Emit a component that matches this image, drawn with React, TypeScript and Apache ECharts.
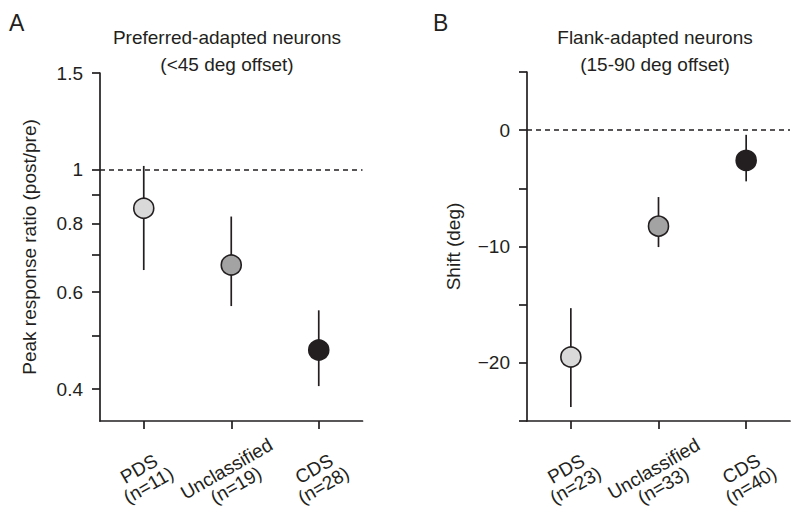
import React, { useEffect, useRef } from "react";
import * as echarts from "echarts";

// Panel A: Preferred-adapted neurons (peak response ratio, log scale)
const categoriesA = ["PDS\n(n=11)", "Unclassified\n(n=19)", "CDS\n(n=28)"];
const meanA = [0.852, 0.672, 0.471];
const lowA = [0.658, 0.566, 0.405];
const highA = [1.017, 0.823, 0.556];
const tickLabelsA = [0.4, 0.6, 0.8, 1, 1.5];
const tickMarksA = [0.4, 0.5, 0.6, 0.7, 0.8, 0.9, 1, 1.5];
const refA = 1;

// Panel B: Flank-adapted neurons (shift in deg)
const categoriesB = ["PDS\n(n=23)", "Unclassified\n(n=33)", "CDS\n(n=40)"];
const meanB = [-19.5, -8.25, -2.6];
const lowB = [-23.8, -10.05, -4.4];
const highB = [-15.3, -5.75, -0.4];
const tickLabelsB = [-20, -10, 0];
const tickMarksB = [-25, -20, -15, -10, -5, 0, 5];
const refB = 0;

const fills = ["#d9d9d9", "#a3a3a3", "#231f20"];
const INK = "#231f20";
const FONT = "Liberation Sans, Arial, sans-serif";

const errRender = (params: any, api: any) => {
  const x = api.value(0);
  const p1 = api.coord([x, api.value(1)]);
  const p2 = api.coord([x, api.value(2)]);
  return {
    type: "line",
    shape: { x1: p1[0], y1: p1[1], x2: p2[0], y2: p2[1] },
    style: { stroke: INK, lineWidth: 1.7 },
  };
};

export default function App() {
  const ref = useRef<HTMLDivElement>(null);
  useEffect(() => {
    if (!ref.current) return;
    const chart = echarts.init(ref.current, null, { renderer: "svg" });
    const ln = Math.log;
    const axisLine = { show: true, onZero: false, lineStyle: { color: INK, width: 1.7 } };
    const axisTick = { show: true, length: 8, lineStyle: { color: INK, width: 1.7 } };
    const xLabel = {
      rotate: 30,
      align: "center",
      verticalAlign: "middle",
      margin: 56,
      fontSize: 19,
      lineHeight: 19,
      color: INK,
      fontFamily: FONT,
    };
    const yLabelStyle = { fontSize: 19, color: INK, fontFamily: FONT, margin: 17 };
    const markLine = (v: number) => ({
      silent: true,
      symbol: "none",
      label: { show: false },
      lineStyle: { color: INK, type: [5, 4], width: 1.5 },
      data: [{ yAxis: v }],
    });
    const nameStyle = { fontSize: 19, color: INK, fontFamily: FONT };
    const titleStyle = {
      fontSize: 19,
      lineHeight: 27,
      align: "center",
      fill: INK,
      fontFamily: FONT,
    };
    chart.setOption({
      animation: false,
      backgroundColor: "#ffffff",
      textStyle: { fontFamily: FONT },
      grid: [
        { left: 100, top: 73, width: 262.5, height: 348, containLabel: false, outerBoundsMode: "none" },
        { left: 527, top: 72, width: 263, height: 349, containLabel: false, outerBoundsMode: "none" },
      ],
      xAxis: [
        {
          gridIndex: 0,
          type: "category",
          data: categoriesA,
          boundaryGap: true,
          axisLine,
          axisTick: { ...axisTick, alignWithLabel: true },
          axisLabel: xLabel,
        },
        {
          gridIndex: 1,
          type: "category",
          data: categoriesB,
          boundaryGap: true,
          axisLine,
          axisTick: { ...axisTick, alignWithLabel: true },
          axisLabel: xLabel,
        },
      ],
      yAxis: [
        {
          gridIndex: 0,
          type: "value",
          min: ln(0.35),
          max: ln(1.5),
          name: "Peak response ratio (post/pre)",
          nameLocation: "middle",
          nameGap: 61,
          nameTextStyle: nameStyle,
          axisLine,
          axisTick: { ...axisTick, customValues: tickMarksA.map((v) => ln(v)) },
          axisLabel: {
            ...yLabelStyle,
            customValues: tickLabelsA.map((v) => ln(v)),
            formatter: (v: number) => String(parseFloat(Math.exp(v).toFixed(2))),
          },
          splitLine: { show: false },
        },
        {
          gridIndex: 1,
          type: "value",
          min: -25,
          max: 5,
          name: "Shift (deg)",
          nameLocation: "middle",
          nameGap: 64,
          nameTextStyle: nameStyle,
          axisLine,
          axisTick: { ...axisTick, customValues: tickMarksB },
          axisLabel: {
            ...yLabelStyle,
            customValues: tickLabelsB,
            formatter: (v: number) => (v < 0 ? "\u2212" + Math.abs(v) : String(v)),
          },
          splitLine: { show: false },
        },
      ],
      graphic: [
        { type: "text", x: 9, y: 11, style: { text: "A", fontSize: 23, fill: INK, fontFamily: FONT } },
        { type: "text", x: 433, y: 11, style: { text: "B", fontSize: 23, fill: INK, fontFamily: FONT } },
        {
          type: "text",
          x: 227,
          y: 23.5,
          style: { ...titleStyle, text: "Preferred-adapted neurons\n(<45 deg offset)" },
        },
        {
          type: "text",
          x: 655,
          y: 23.5,
          style: { ...titleStyle, text: "Flank-adapted neurons\n(15-90 deg offset)" },
        },
      ],
      series: [
        {
          type: "custom",
          xAxisIndex: 0,
          yAxisIndex: 0,
          renderItem: errRender,
          encode: { x: 0, y: [1, 2] },
          data: lowA.map((l, i) => [i, ln(l), ln(highA[i])]),
          z: 2,
        },
        {
          type: "scatter",
          xAxisIndex: 0,
          yAxisIndex: 0,
          symbolSize: 20,
          data: meanA.map((v, i) => ({
            value: [i, ln(v)],
            itemStyle: { color: fills[i], borderColor: INK, borderWidth: 1.6, opacity: 1 },
          })),
          markLine: markLine(ln(refA)),
          z: 3,
        },
        {
          type: "custom",
          xAxisIndex: 1,
          yAxisIndex: 1,
          renderItem: errRender,
          encode: { x: 0, y: [1, 2] },
          data: lowB.map((l, i) => [i, l, highB[i]]),
          z: 2,
        },
        {
          type: "scatter",
          xAxisIndex: 1,
          yAxisIndex: 1,
          symbolSize: 20,
          data: meanB.map((v, i) => ({
            value: [i, v],
            itemStyle: { color: fills[i], borderColor: INK, borderWidth: 1.6, opacity: 1 },
          })),
          markLine: markLine(refB),
          z: 3,
        },
      ],
    });
    return () => chart.dispose();
  }, []);
  return (
    <div
      ref={ref}
      style={{ position: "fixed", left: 0, top: 0, width: 800, height: 514, background: "#fff" }}
    />
  );
}
